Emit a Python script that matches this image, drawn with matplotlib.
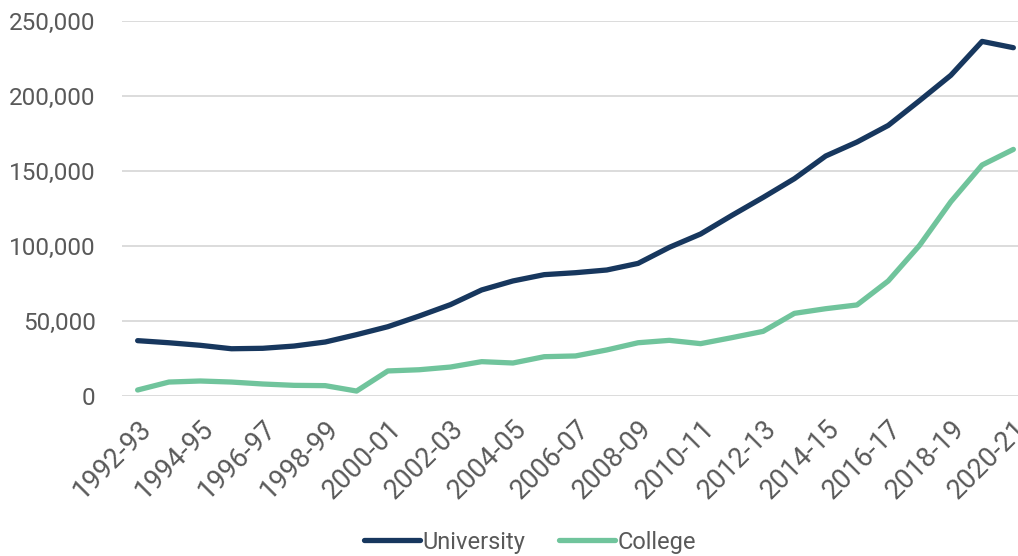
import matplotlib.pyplot as plt
import numpy as np

years = ['1992-93', '1993-94', '1994-95', '1995-96', '1996-97', '1997-98', '1998-99',
         '1999-00', '2000-01', '2001-02', '2002-03', '2003-04', '2004-05', '2005-06',
         '2006-07', '2007-08', '2008-09', '2009-10', '2010-11', '2011-12', '2012-13',
         '2013-14', '2014-15', '2015-16', '2016-17', '2017-18', '2018-19', '2019-20',
         '2020-21']

university = [36900, 35500, 33800, 31500, 31800, 33300, 36000, 40900, 46200, 53300,
              60900, 70700, 76700, 80900, 82200, 84000, 88400, 99100, 108000, 120400,
              132400, 144900, 160000, 169300, 180400, 196900, 213800, 236400, 232200]

college = [4000, 9300, 10000, 9300, 8000, 7100, 6900, 3300, 16700, 17500,
           19300, 22900, 22000, 26200, 26700, 30700, 35500, 37100, 34900, 38900,
           43100, 55100, 58200, 60700, 76700, 100400, 129500, 154000, 164400]

plt.rcParams['font.family'] = ['Roboto', 'DejaVu Sans']
text_col = '#595959'

fig = plt.figure(figsize=(10.18, 5.56), dpi=100)
ax = fig.add_axes([122 / 1018, 160 / 556, 907 / 1018, 375 / 556])

x = np.arange(len(years))
ax.plot(x, university, color='#17375E', lw=3.8, label='University', solid_capstyle='round')
ax.plot(x, college, color='#70C49C', lw=3.8, label='College', solid_capstyle='round')

ax.set_xlim(-0.5, len(years) - 0.5)
ax.set_ylim(0, 250000)
ax.set_yticks(np.arange(0, 250001, 50000))
ax.set_yticklabels([f'{v:,}' for v in range(0, 250001, 50000)], fontsize=17.5, color=text_col)
ax.set_xticks(x[::2])
ax.set_xticklabels(years[::2], rotation=45, ha='right', rotation_mode='anchor',
                   fontsize=19.5, color=text_col)

ax.grid(axis='y', color='#D9D9D9', lw=1.3)
ax.set_axisbelow(True)
for s in ax.spines.values():
    s.set_visible(False)
ax.tick_params(axis='both', length=0)
ax.tick_params(axis='y', pad=19)
ax.tick_params(axis='x', pad=14)

fig.legend(loc='center', bbox_to_anchor=(530 / 1018, 1 - 542 / 556), ncol=2, frameon=False,
           fontsize=17, labelcolor=text_col, handlelength=2.4, handletextpad=0.1,
           columnspacing=1.4)

fig.savefig('out.png', dpi=100)
